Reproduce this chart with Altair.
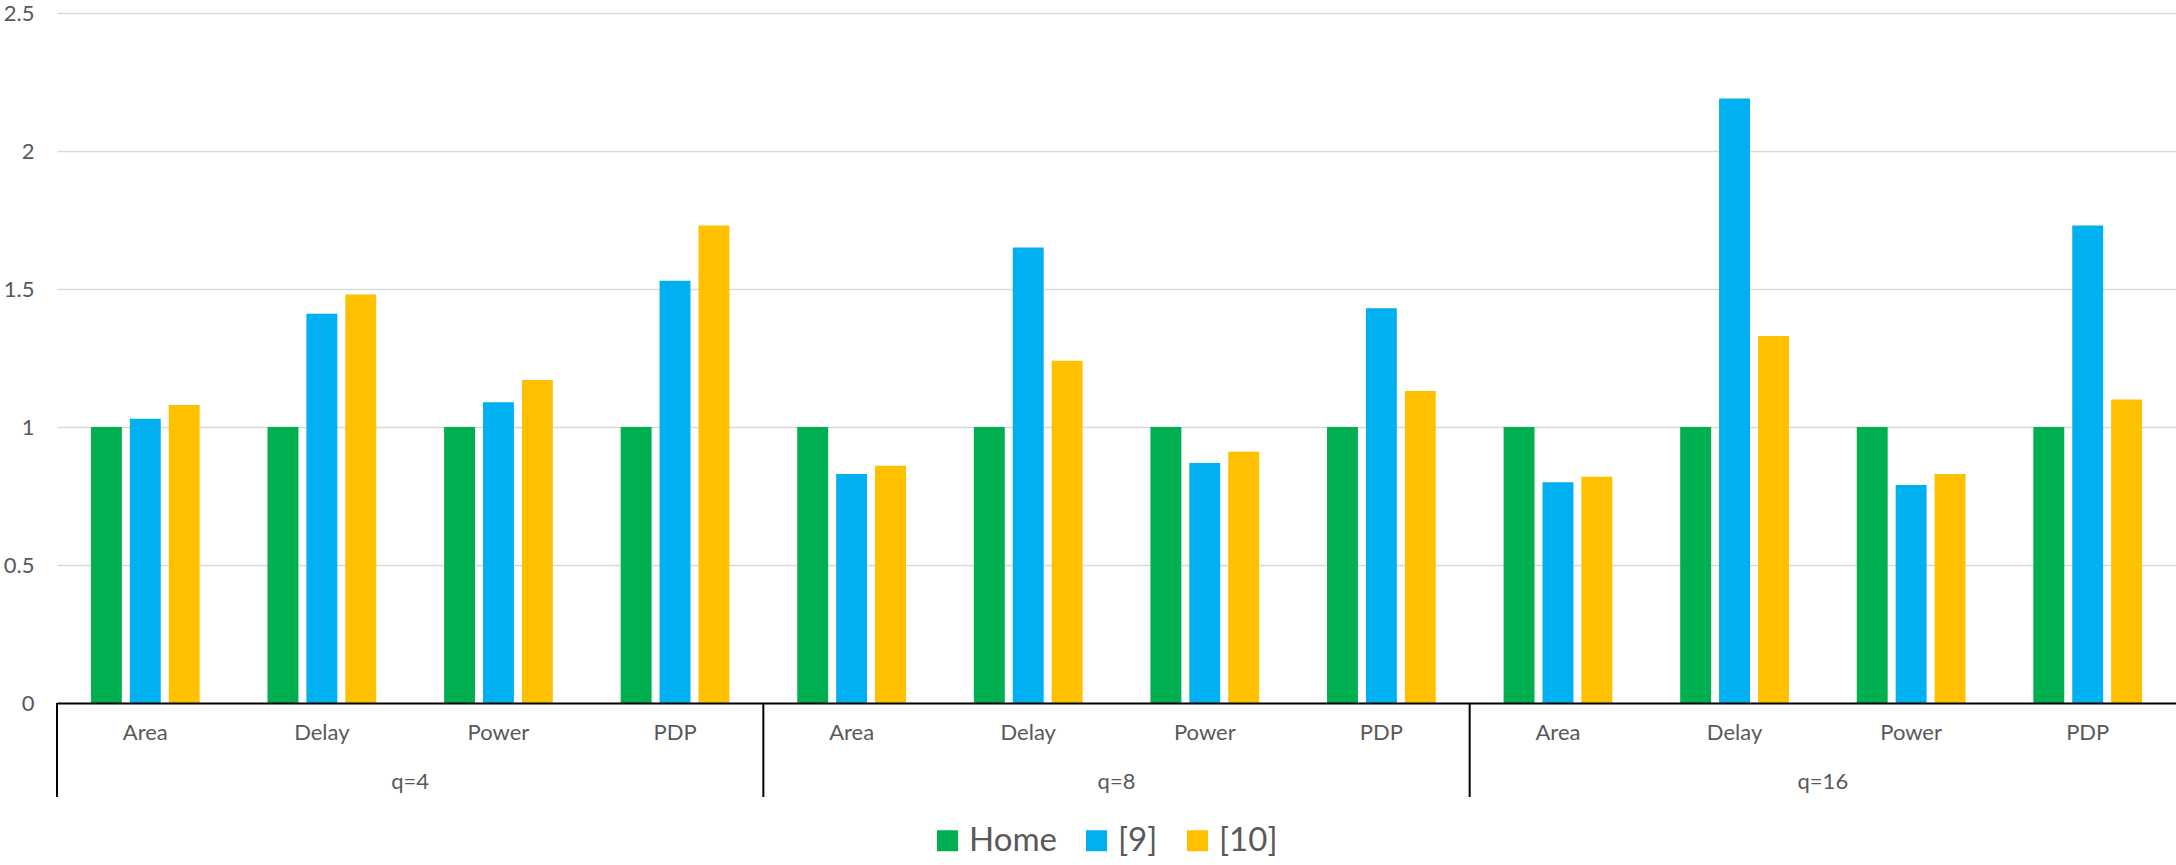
import altair as alt
import pandas as pd

groups = ["q=4", "q=8", "q=16"]
metrics = ["Area", "Delay", "Power", "PDP"]
series = ["Home", "[9]", "[10]"]
home = [1.00, 1.00, 1.00, 1.00, 1.00, 1.00, 1.00, 1.00, 1.00, 1.00, 1.00, 1.00]
ref9 = [1.03, 1.41, 1.09, 1.53, 0.83, 1.65, 0.87, 1.43, 0.80, 2.19, 0.79, 1.73]
ref10 = [1.08, 1.48, 1.17, 1.73, 0.86, 1.24, 0.91, 1.13, 0.82, 1.33, 0.83, 1.10]
colors = ["#00B050", "#00B0F0", "#FFC000"]
y_ticks = [0, 0.5, 1, 1.5, 2, 2.5]

cats = [f"{g}|{m}" for g in groups for m in metrics]
rows = []
for vals, s in zip([home, ref9, ref10], series):
    for c, v in zip(cats, vals):
        rows.append({"cat": c, "series": s, "value": v})
df = pd.DataFrame(rows)

sep_df = pd.DataFrame({"cat": [f"{g}|{metrics[0]}" for g in groups]})
grp_df = pd.DataFrame({"cat": [f"{g}|{metrics[1]}" for g in groups], "label": groups})

FONT = "Lato"
GREY = "#595959"

x_scale = alt.Scale(paddingInner=0, paddingOuter=0)

bars = alt.Chart(df).mark_bar().encode(
    x=alt.X("cat:N", sort=cats, scale=x_scale,
            axis=alt.Axis(title=None, labelAngle=0, ticks=False, domainColor="black",
                          domainWidth=2, labelPadding=19, labelFontSize=22, labelColor=GREY,
                          labelFont=FONT, grid=False, zindex=1,
                          labelExpr="split(datum.label, '|')[1]")),
    xOffset=alt.XOffset("series:N", sort=series,
                        scale=alt.Scale(paddingInner=0.205, paddingOuter=0.872)),
    y=alt.Y("value:Q", scale=alt.Scale(domain=[0, 2.5], nice=False),
            axis=alt.Axis(values=y_ticks, format="~g", title=None, domain=False, ticks=False,
                          labelPadding=23, labelFontSize=22, labelColor=GREY, labelFont=FONT,
                          gridColor="#d9d9d9", gridWidth=1.5)),
    color=alt.Color("series:N", sort=series, scale=alt.Scale(domain=series, range=colors),
                    legend=alt.Legend(title=None, orient="none", legendX=874, legendY=811,
                                      direction="horizontal", symbolType="square",
                                      symbolSize=441, symbolStrokeWidth=0, labelFontSize=33,
                                      labelColor=GREY, labelFont=FONT, labelOffset=5,
                                      columnPadding=23, padding=0)),
)

seps = alt.Chart(sep_df).mark_rule(color="black", strokeWidth=2).encode(
    x=alt.X("cat:N", sort=cats, scale=x_scale, bandPosition=0),
    y=alt.value(690),
    y2=alt.value(784),
)

grp_text = alt.Chart(grp_df).mark_text(font=FONT, fontSize=22, color=GREY, baseline="middle",
                                        align="center").encode(
    x=alt.X("cat:N", sort=cats, scale=x_scale, bandPosition=1),
    y=alt.value(769),
    text="label:N",
)

chart = alt.layer(bars, seps, grp_text).properties(
    width=2119, height=690,
    autosize=alt.AutoSizeParams(type="none"),
    padding={"left": 57, "top": 13, "right": 0, "bottom": 162},
    background="white",
).configure_view(stroke=None)

chart.save("out.html", embed_options={"renderer": "svg", "actions": False})
